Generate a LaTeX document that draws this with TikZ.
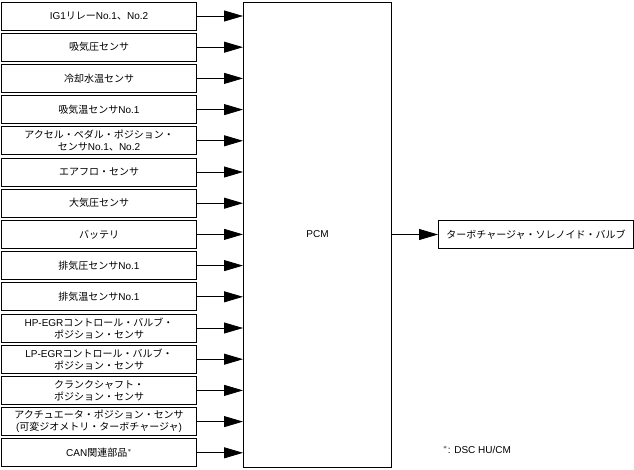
\documentclass[tikz,border=0pt]{standalone}
\usepackage{fontspec}
\setmainfont{Noto Sans CJK JP}
\newfontfamily\latf{Liberation Sans}
\newcommand{\la}[1]{{\latf #1}}
\usepackage{tikz}
\usetikzlibrary{positioning,arrows.meta}

\begin{document}
\begin{tikzpicture}[x=1pt, y=1pt, node distance=2.2pt, every node/.style={font=\fontsize{10pt}{12pt}\selectfont},
  box/.style={draw, line width=1pt, minimum width=195pt, minimum height=28pt, inner sep=1pt, align=center},
  arr/.style={line width=0.8pt, -{Triangle[length=19pt, width=11pt]}}]
  \useasboundingbox (0,0) rectangle (634,-469);
  \node[box, anchor=north west] (ig) at (1,-1.5) {\la{IG1}リレー\la{No.1}、\la{No.2}};
  \node[box, below=of ig] (map) {吸気圧センサ};
  \node[box, below=of map] (ect) {冷却水温センサ};
  \node[box, below=of ect] (iat) {吸気温センサ\la{No.1}};
  \node[box, below=of iat] (app) {アクセル・ペダル・ポジション・\\センサ\la{No.1}、\la{No.2}};
  \node[box, below=of app] (maf) {エアフロ・センサ};
  \node[box, below=of maf] (baro) {大気圧センサ};
  \node[box, below=of baro] (batt) {バッテリ};
  \node[box, below=of batt] (ebp) {排気圧センサ\la{No.1}};
  \node[box, below=of ebp] (egt) {排気温センサ\la{No.1}};
  \node[box, below=of egt] (hpegr) {\la{HP-EGR}コントロール・バルブ・\\ポジション・センサ};
  \node[box, below=of hpegr] (lpegr) {\la{LP-EGR}コントロール・バルブ・\\ポジション・センサ};
  \node[box, below=of lpegr] (ckp) {クランクシャフト・\\ポジション・センサ};
  \node[box, below=of ckp] (vgt) {アクチュエータ・ポジション・センサ\\\la{(}可変ジオメトリ・ターボチャージャ\la{)}};
  \node[box, below=of vgt] (can) {\la{CAN}関連部品$^{*}$};
  \node[box, anchor=north west, minimum width=148pt, minimum height=465pt] (pcm) at (243,-1.5) {\la{PCM}};
  \node[box, right=46pt of pcm] (tcv) {ターボチャージャ・ソレノイド・バルブ};
  \node[anchor=west, inner sep=0pt] (note) at (443,-450) {\la{$^{*}$: DSC HU/CM}};
  \foreach \n in {ig,map,ect,iat,app,maf,baro,batt,ebp,egt,hpegr,lpegr,ckp,vgt,can}
    \draw[arr] (\n) -- (\n -| pcm.west);
  \draw[arr] (pcm) -- (tcv);
\end{tikzpicture}
\end{document}
